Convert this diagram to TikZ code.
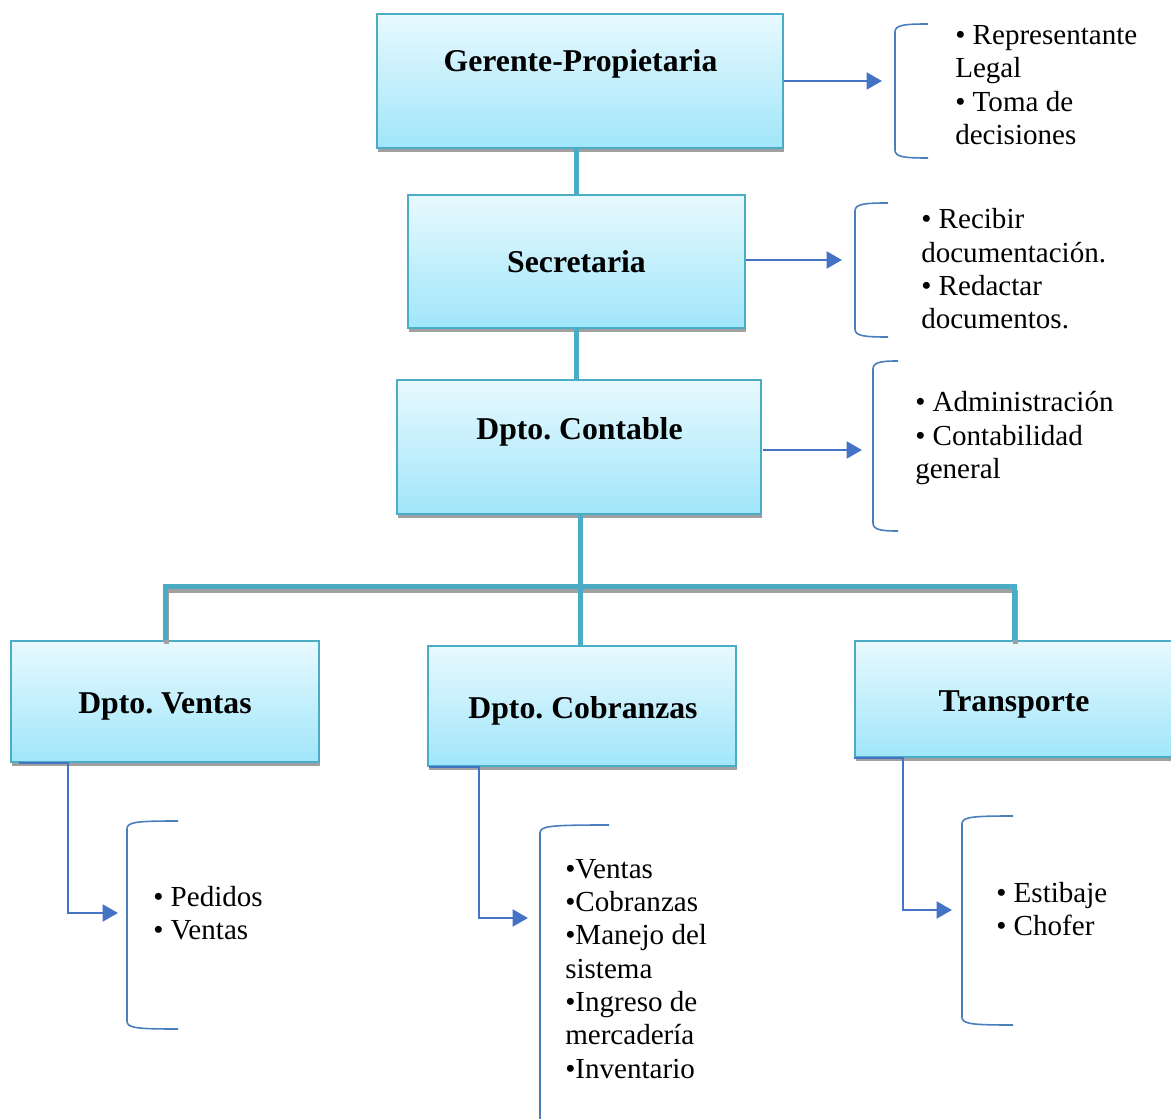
\documentclass[tikz,border=0pt]{standalone}
\usepackage{fontspec}
\setmainfont{Liberation Serif}
\usetikzlibrary{fit,shadows,arrows.meta}
\frenchspacing

\definecolor{tealline}{RGB}{75,172,198}
\definecolor{boxtop}{RGB}{232,249,254}
\definecolor{boxbot}{RGB}{160,230,250}
\definecolor{shadowgray}{RGB}{160,160,160}
\definecolor{arrowblue}{RGB}{68,114,196}
\definecolor{brkblue}{RGB}{74,126,187}

% left square bracket: x, top, bottom, end of the arms
\newcommand{\listbracket}[4]{%
  \draw[brk] (#4,#2) .. controls (#1+9,#2) and (#1,#2+1) .. (#1,#2+8)
    -- (#1,#3-8) .. controls (#1,#3-1) and (#1+9,#3) .. (#4,#3);}

\tikzset{
  orgbox/.style={draw=tealline, line width=1.5pt, top color=boxtop,
    bottom color=boxbot, inner sep=0pt,
    drop shadow={shadow xshift=0.75pt, shadow yshift=-3pt,
      fill=shadowgray, opacity=1}},
  ttl/.style={anchor=base, inner sep=0pt,
    font=\fontsize{23.8}{28}\selectfont\bfseries},
  duties/.style={anchor=base west, inner sep=0pt,
    font=\fontsize{21.8}{25}\selectfont},
  link/.style={draw=tealline, line width=3.75pt},
  linkshadow/.style={draw=shadowgray, line width=3.75pt,
    transform canvas={xshift=0.75pt, yshift=-3pt}},
  barrow/.style={draw=arrowblue, line width=2.2pt,
    -{Triangle[length=11.5pt,width=12.5pt]}},
  brk/.style={draw=brkblue, line width=1.2pt}
}

\begin{document}
\begin{tikzpicture}[x=0.75pt, y=-0.75pt]
\useasboundingbox (0,0) rectangle (1171,1119);
\clip (0,0) rectangle (1171,1119);

% boxes
\node[orgbox, fit={(377,14) (783,148)}] (ger) {};
\node[orgbox, fit={(408,195) (745,328)}] (sec) {};
\node[orgbox, fit={(397,380) (761,514)}] (con) {};
\node[orgbox, fit={(11,641) (319,762)}] (ven) {};
\node[orgbox, fit={(428,646) (736,766)}] (cob) {};
\node[orgbox, fit={(855,641) (1173,757)}] (tra) {};

% titles
\node[ttl] (tger) at (580.5,72) {Gerente-Propietaria};
\node[ttl] (tsec) at (576.5,273) {Secretaria};
\node[ttl] (tcon) at (579.5,440) {Dpto. Contable};
\node[ttl] (tven) at (165,713) {Dpto. Ventas};
\node[ttl] (tcob) at (583,718) {Dpto. Cobranzas};
\node[ttl] (ttra) at (1014,711) {Transporte};

% hierarchy lines
\coordinate (bar) at (580,586);
\draw[link] (ger.south -| sec.north) -- (sec.north);
\draw[link] (sec.south) -- (sec.south |- con.north);
\draw[linkshadow] (ven.north |- bar) -- (tra.north |- bar);
\draw[linkshadow] (ven.north |- bar) -- (ven.north);
\draw[linkshadow] (tra.north |- bar) -- (tra.north);
\draw[link] (con.south -| bar) -- (bar |- cob.north);
\draw[link] (ven.north) -- (ven.north |- bar) -- (tra.north |- bar) -- (tra.north);

% arrow targets
\coordinate (ager) at (882,81);
\coordinate (asec) at (842,260);
\coordinate (acon) at (862,450);
\coordinate (aven) at (118,913);
\coordinate (acob) at (528,918);
\coordinate (atra) at (952,910);

% arrows to the duty lists
\draw[barrow] (ger.east) -- (ager);
\draw[barrow] (sec.east |- asec) -- (asec);
\draw[barrow] (763,450) -- (acon);
\draw[barrow] ([xshift=6.75pt]ven.south west) -- ++(49,0) |- (aven);
\draw[barrow] ([xshift=1.5pt]cob.south west) -- ++(50,0) |- (acob);
\draw[barrow] (tra.south west) -- ++(49,0) |- (atra);

% brackets
\listbracket{895}{24}{158}{928}
\listbracket{855}{203}{337}{888}
\listbracket{873}{361}{531}{898}
\listbracket{127}{821}{1029}{178}
\listbracket{540}{825}{1140}{609}
\listbracket{962}{816}{1025}{1013}

% duty lists
\node[duties] (lger) at (955,44.5) {\begin{tabular}[t]{@{}l@{}}
  • Representante\\ Legal\\ • Toma de\\ decisiones\end{tabular}};
\node[duties] (lsec) at (921,229) {\begin{tabular}[t]{@{}l@{}}
  • Recibir\\ documentación.\\ • Redactar\\ documentos.\end{tabular}};
\node[duties] (lcon) at (915,412) {\begin{tabular}[t]{@{}l@{}}
  • Administración\\ • Contabilidad\\ general\end{tabular}};
\node[duties] (lven) at (153,906) {\begin{tabular}[t]{@{}l@{}}
  • Pedidos\\ • Ventas\end{tabular}};
\node[duties] (lcob) at (565,878) {\begin{tabular}[t]{@{}l@{}}
  •Ventas\\ •Cobranzas\\ •Manejo del\\ sistema\\ •Ingreso de\\
  mercadería\\ •Inventario\end{tabular}};
\node[duties] (ltra) at (996,902) {\begin{tabular}[t]{@{}l@{}}
  • Estibaje\\ • Chofer\end{tabular}};
\end{tikzpicture}
\end{document}
